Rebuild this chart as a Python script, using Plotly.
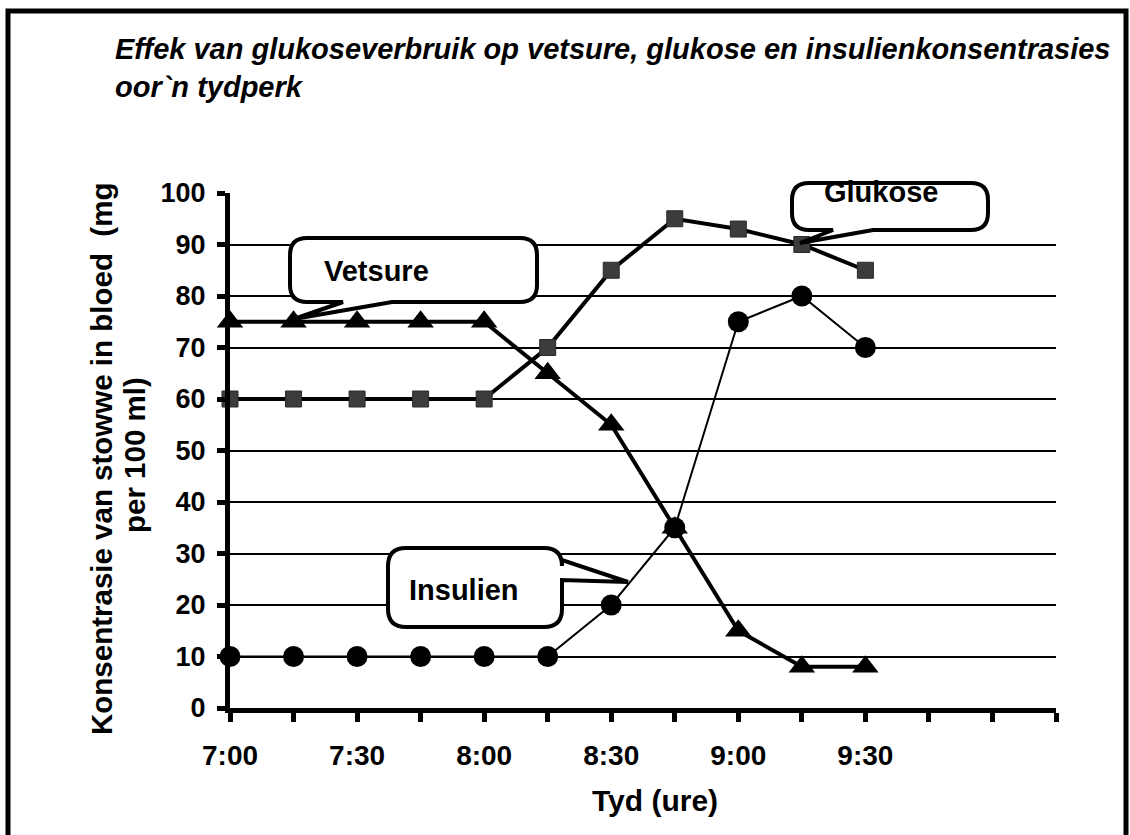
import plotly.graph_objects as go

# ---------------- data ----------------
times = ["7:00", "7:15", "7:30", "7:45", "8:00", "8:15", "8:30", "8:45", "9:00", "9:15", "9:30"]
vetsure = [75, 75, 75, 75, 75, 65, 55, 35, 15, 8, 8]
glukose = [60, 60, 60, 60, 60, 70, 85, 95, 93, 90, 85]
insulien = [10, 10, 10, 10, 10, 10, 20, 35, 75, 80, 70]

axis_ticks = ["7:00", "7:15", "7:30", "7:45", "8:00", "8:15", "8:30", "8:45",
              "9:00", "9:15", "9:30", "9:45", "10:00", "10:15"]
shown_labels = ["7:00", "7:30", "8:00", "8:30", "9:00", "9:30"]

title_text = "Effek van glukoseverbruik op vetsure, glukose en insulienkonsentrasies<br>oor`n tydperk"
y_title_lines = ["Konsentrasie van stowwe in bloed  (mg", "per 100 ml)"]
x_title = "Tyd (ure)"


def to_min(t):
    h, m = t.split(":")
    return (int(h) - 7) * 60 + int(m)


xs = [to_min(t) for t in times]
tickvals = [to_min(t) for t in axis_ticks]
ticktext = [t if t in shown_labels else "" for t in axis_ticks]

# ---------------- layout geometry ----------------
W, H = 1130, 835
L, R, T, B = 230, 1056, 193, 708
FONT = "Liberation Sans, Arial, sans-serif"


def px(xp):
    return (xp - L) / (R - L)


def py(yp):
    return (B - yp) / (B - T)


def P(x, y):
    return f"{px(x):.5f},{py(y):.5f}"


def callout(x0, y0, x1, y1, r, tail, side):
    a, tip, b = tail
    d = f"M {P(x0 + r, y0)} L {P(x1 - r, y0)} Q {P(x1, y0)} {P(x1, y0 + r)} "
    if side == "right":
        d += f"L {P(x1, a)} L {P(*tip)} L {P(x1, b)} "
    d += f"L {P(x1, y1 - r)} Q {P(x1, y1)} {P(x1 - r, y1)} "
    if side == "bottom":
        d += f"L {P(b, y1)} L {P(*tip)} L {P(a, y1)} "
    d += f"L {P(x0 + r, y1)} Q {P(x0, y1)} {P(x0, y1 - r)} L {P(x0, y0 + r)} Q {P(x0, y0)} {P(x0 + r, y0)} Z"
    return dict(type="path", path=d, xref="paper", yref="paper",
                line=dict(color="black", width=4), fillcolor="white", layer="above")


fig = go.Figure()

fig.add_trace(go.Scatter(
    x=xs, y=insulien, mode="lines+markers", name="Insulien",
    line=dict(color="black", width=2),
    marker=dict(symbol="circle", size=21, color="black"),
    cliponaxis=False))
fig.add_trace(go.Scatter(
    x=xs, y=glukose, mode="lines+markers", name="Glukose",
    line=dict(color="black", width=4),
    marker=dict(symbol="square", size=16, color="#3c3c3c", line=dict(color="#2a2a2a", width=1)),
    cliponaxis=False))
fig.add_trace(go.Scatter(
    x=xs, y=vetsure, mode="lines+markers", name="Vetsure",
    line=dict(color="black", width=4),
    marker=dict(symbol="triangle-up", size=23, color="black"),
    cliponaxis=False))

shapes = [
    callout(290, 238, 537, 302, 17, (343, (294, 319), 392), "bottom"),
    callout(792, 183, 988, 230, 17, (833, (800, 243), 873), "bottom"),
    callout(388, 548, 562, 627, 18, (560, (628, 582), 580), "right"),
    # outer frame
    dict(type="path", xref="paper", yref="paper",
         path=f"M {P(8, 845)} L {P(8, 11)} L {P(1126, 11)} L {P(1126, 845)}",
         line=dict(color="black", width=5), layer="above"),
]


def ann(text, x, y, size, angle=0):
    return dict(text=text, x=px(x), y=py(y), xref="paper", yref="paper",
                xanchor="center", yanchor="middle", textangle=angle,
                showarrow=False, font=dict(family=FONT, size=size, color="black"))


annotations = [
    ann("<b>Vetsure</b>", 376, 271, 29),
    ann("<b>Glukose</b>", 881, 192, 29),
    ann("<b>Insulien</b>", 464, 590, 29),
    ann("<b>" + y_title_lines[0] + "</b>", 101, 459, 29.5, -90),
    ann("<b>" + y_title_lines[1] + "</b>", 134, 455, 29.5, -90),
    ann("<b>" + x_title + "</b>", 655, 800, 30),
]

fig.update_layout(
    width=W, height=H,
    margin=dict(l=L, r=W - R, t=T, b=H - B, pad=0),
    paper_bgcolor="white", plot_bgcolor="white",
    showlegend=False,
    title=dict(text="<b><i>" + title_text + "</i></b>", x=115 / W, xanchor="left",
               xref="container", y=1 - 59 / H, yanchor="middle", yref="container",
               font=dict(family=FONT, size=29, color="black")),
    shapes=shapes, annotations=annotations,
)

fig.update_xaxes(range=[0, 195], tickvals=tickvals, ticktext=ticktext,
                 showgrid=False, zeroline=False,
                 showline=True, linecolor="black", linewidth=5,
                 ticks="outside", ticklen=9, tickwidth=4.5, tickcolor="black",
                 ticklabelstandoff=9,
                 tickfont=dict(family=FONT, size=28, color="black", weight="bold"))
fig.update_yaxes(range=[0, 100], tickvals=list(range(0, 101, 10)),
                 showgrid=True, gridcolor="black", gridwidth=2, zeroline=False,
                 showline=True, linecolor="black", linewidth=5,
                 ticks="outside", ticklen=8, tickwidth=4.5, tickcolor="black",
                 ticklabelstandoff=6,
                 tickfont=dict(family=FONT, size=27, color="black", weight="bold"))

fig.write_html("out.html", config={"displayModeBar": False},
               post_script="document.body.style.margin='0';")
